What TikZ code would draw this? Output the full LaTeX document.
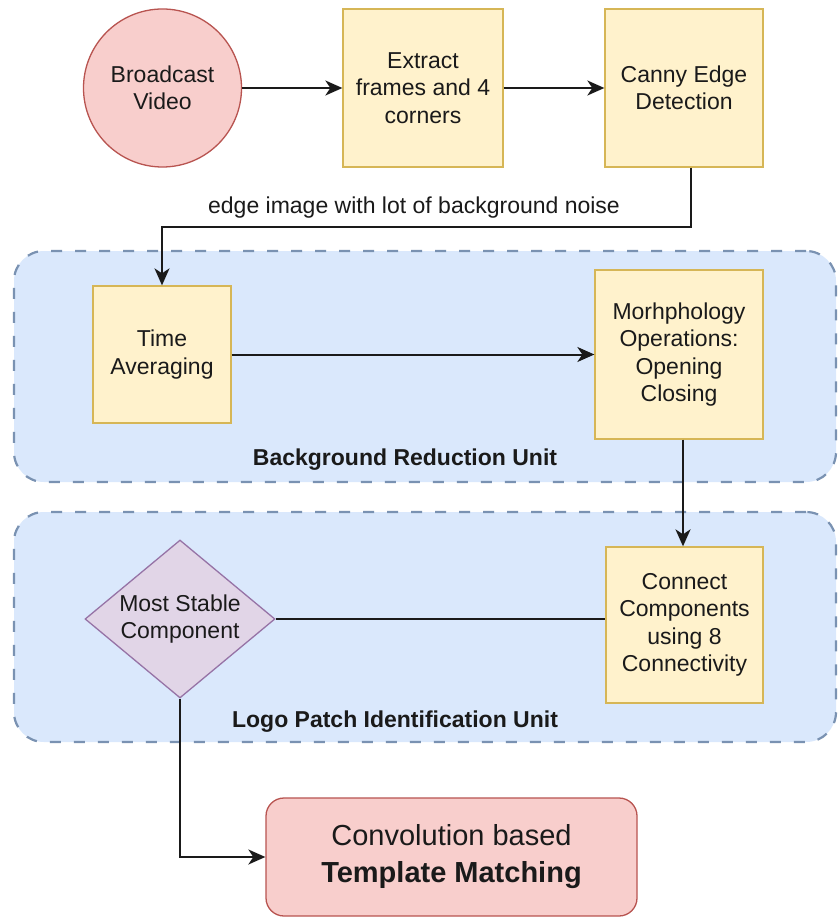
\documentclass[tikz,border=0pt]{standalone}
\usepackage{fontspec}
\setmainfont{Liberation Sans}
\usetikzlibrary{shapes.geometric,arrows.meta}

\definecolor{procfill}{HTML}{FFF2CC}
\definecolor{procline}{HTML}{D6B656}
\definecolor{redfill}{HTML}{F8CECC}
\definecolor{redline}{HTML}{B85450}
\definecolor{purpfill}{HTML}{E1D5E7}
\definecolor{purpline}{HTML}{9673A6}
\definecolor{grpfill}{HTML}{DAE8FC}
\definecolor{grpline}{HTML}{7A92B2}
\definecolor{inkc}{HTML}{1A1A1A}

\tikzset{
  txt/.style={font=\fontsize{23}{27.5}\selectfont, text=inkc, align=center},
  procbox/.style={txt, draw=procline, fill=procfill, line width=1.3pt,
    rectangle, inner sep=0pt},
  startnode/.style={txt, draw=redline, fill=redfill, line width=1.3pt,
    circle, inner sep=0pt},
  decision/.style={txt, draw=purpline, fill=purpfill, line width=1.3pt,
    diamond, aspect=1.2, inner sep=0pt},
  endbox/.style={font=\fontsize{29}{37}\selectfont, text=inkc, align=center,
    draw=redline, fill=redfill, line width=1.3pt, rectangle,
    rounded corners=18pt, inner sep=0pt},
  group/.style={draw=grpline, fill=grpfill, line width=2.2pt,
    dash pattern=on 11pt off 13pt, rounded corners=30pt, rectangle,
    inner sep=0pt},
  grouplabel/.style={font=\fontsize{23}{27.5}\selectfont\bfseries, text=inkc},
  link/.style={draw=inkc, line width=2pt},
  arr/.style={link, -{Stealth[length=17pt,width=15pt,inset=5pt]}},
}

\begin{document}
\begin{tikzpicture}[x=1pt,y=-1pt]
  \useasboundingbox[fill=white] (0,0) rectangle (838,917);

  % grouping containers
  \node[group, minimum width=822pt, minimum height=231pt] (bru) at (425,366.5) {};
  \node[group, minimum width=822pt, minimum height=230pt] (lpu) at (425,627) {};
  \node[grouplabel] (brulbl) at (405,460) {Background Reduction Unit};
  \node[grouplabel] (lpulbl) at (395,722) {Logo Patch Identification Unit};

  % process steps
  \node[startnode, minimum size=158pt] (video) at (162.5,88) {Broadcast\\Video};
  \node[procbox, minimum width=160pt, minimum height=158pt] (extract) at (423,88)
    {Extract\\frames and 4\\corners};
  \node[procbox, minimum width=158pt, minimum height=158pt] (canny) at (684,88)
    {Canny Edge\\Detection};
  \node[procbox, minimum width=138pt, minimum height=137pt] (timeavg) at (162,354.5)
    {Time\\Averaging};
  \node[procbox, minimum width=168pt, minimum height=169pt] (morph) at (679,354.5)
    {Morhphology\\Operations:\\Opening\\Closing};
  \node[procbox, minimum width=157pt, minimum height=156pt] (connect) at (684.5,625)
    {Connect\\Components\\using 8\\Connectivity};
  \node[decision, minimum width=190pt, minimum height=158pt] (stable) at (180,619)
    {Most Stable\\Component};
  \node[endbox, minimum width=371pt, minimum height=118pt] (tmpl) at (451.5,857)
    {Convolution based\\\textbf{Template Matching}};

  % routing points
  \coordinate (edgeR) at (691,227);
  \coordinate (edgeL) at (162,227);
  \coordinate (morphx) at (683,490);

  % connectors
  \draw[arr] (video) -- (extract);
  \draw[arr] (extract) -- (canny);
  \draw[arr] (canny.south -| edgeR) -- (edgeR) -- (edgeL) -- (timeavg.north);
  \node[txt] (edgelbl) at (414,208) {edge image with lot of background noise};
  \draw[arr] (timeavg) -- (morph);
  \draw[arr] (morph.south -| morphx) -- (connect.north -| morphx);
  \draw[link] (stable.east) -- (stable.east -| connect.west);
  \draw[arr] (stable.south) |- (tmpl.west);
\end{tikzpicture}
\end{document}
